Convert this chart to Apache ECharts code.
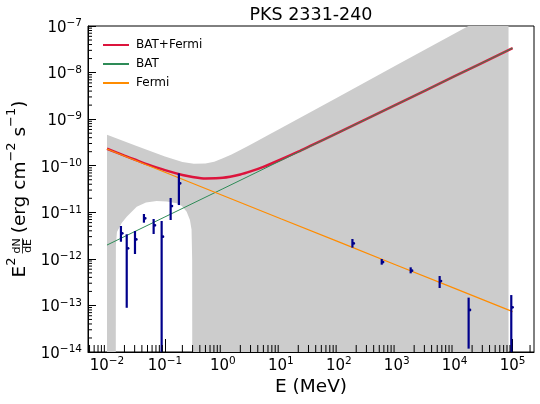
<!DOCTYPE html>
<html>
<head>
<meta charset="utf-8">
<script src="https://cdn.jsdelivr.net/npm/echarts@6/dist/echarts.min.js"></script>
<style>
html, body { margin: 0; padding: 0; background: #fff; }
#chart { width: 540px; height: 404px; }
</style>
</head>
<body>
<div id="chart"></div>
<script>
var FONT = 'DejaVu Sans';

// axis ranges (MeV, erg cm-2 s-1)
var xMin = 0.0047, xMax = 2.34e5;
var yMin = 1e-14, yMax = 1e-7;

// SED points: energy, flux, lower / upper end of error bar
var pointE  = [0.0174, 0.0219, 0.0304, 0.0434, 0.0638, 0.0877, 0.1254, 0.174, 172, 551, 1742, 5508, 17420, 94850];
var pointY  = [3.54e-12, 1.68e-12, 2.62e-12, 7.41e-12, 5.25e-12, 2.99e-12, 1.36e-11, 4.19e-11, 2.15e-12, 8.55e-13, 5.57e-13, 3.34e-13, 7.97e-14, 9.1e-14];
var pointLo = [2.33e-12, 8.9e-14, 1.27e-12, 5.98e-12, 3.42e-12, 1e-16, 6.83e-12, 1.43e-11, 1.74e-12, 7.5e-13, 4.89e-13, 2.37e-13, 1.18e-14, 1e-16];
var pointHi = [5.07e-12, 3.37e-12, 3.96e-12, 9.19e-12, 7.18e-12, 6.5e-12, 2.03e-11, 6.87e-11, 2.67e-12, 9.93e-13, 6.58e-13, 4.28e-13, 1.47e-13, 1.67e-13];

// model curves
var modelE = [0.01, 0.1, 1, 10, 100, 1e3, 1e4, 1e5];
var batY   = [1.98e-12, 7.96e-12, 3.2e-11, 1.29e-10, 5.16e-10, 2.07e-9, 8.34e-9, 3.35e-8];
var fermiY = [2.29e-10, 7.24e-11, 2.3e-11, 7.28e-12, 2.31e-12, 7.31e-13, 2.32e-13, 7.35e-14];
var sumE = [0.01, 0.02, 0.03, 0.05, 0.1, 0.2, 0.3, 0.5, 1, 2, 3, 5, 10, 20, 31.6, 100, 1e3, 1e4, 1e5];
var sumY = [2.31e-10, 1.65e-10, 1.36e-10, 1.07e-10, 8.04e-11, 6.34e-11, 5.74e-11, 5.34e-11, 5.5e-11, 6.49e-11, 7.54e-11, 9.48e-11, 1.36e-10, 2.0e-10, 2.62e-10, 5.18e-10, 2.07e-9, 8.34e-9, 3.35e-8];

// confidence band: upper edge, and lower edge (with the hole under the BAT points)
var bandE  = [0.01, 0.0316, 0.1, 0.2, 0.316, 0.5, 0.708, 1, 1.41, 2, 2.82, 4, 6.3, 10, 100, 1000, 1e4, 85000];
var bandHi = [4.63e-10, 2.68e-10, 1.57e-10, 1.2e-10, 1.1e-10, 1.12e-10, 1.22e-10, 1.44e-10, 1.75e-10, 2.17e-10, 2.73e-10, 3.43e-10, 4.68e-10, 6.4e-10, 3.04e-9, 1.45e-8, 6.9e-8, 2.94e-7];
var lowE = [0.01, 0.01413, 0.01423, 0.01486, 0.0179, 0.0219, 0.0325, 0.047, 0.0719, 0.108, 0.159, 0.196, 0.237, 0.27, 0.288, 0.295, 0.297, 85000];
var lowY = [1e-16, 1e-16, 1.98e-12, 3.77e-12, 5.9e-12, 8.0e-12, 1.32e-11, 1.62e-11, 1.75e-11, 1.71e-11, 1.56e-11, 1.36e-11, 1.03e-11, 6.8e-12, 4.2e-12, 9.4e-13, 1e-16, 1e-16];

var xMinor = [], yMinor = [];
for (var k = -3; k <= 5; k++) {
	for (var m = 2; m <= 9; m++) {
		var v = m * Math.pow(10, k);
		if (v > xMin && v < xMax) xMinor.push([v, yMin]);
	}
}
for (var k = -14; k <= -8; k++) {
	for (var m = 2; m <= 9; m++) yMinor.push([xMin, m * Math.pow(10, k)]);
}

var ctx = document.createElement('canvas').getContext('2d');
function textWidth(t, size){
	ctx.font = size + 'px "' + FONT + '"';
	return ctx.measureText(t).width;
}

function pow10Label(v){
	var e = Math.log10(v);
	if (Math.abs(e - Math.round(e)) > 0.01) return '';
	e = Math.round(e);
	return '{b|10}{s|' + (e < 0 ? '\u2212' : '') + Math.abs(e) + '}';
}
var labelRich = {
	b: { fontSize: 15, fontFamily: FONT, color: '#000', lineHeight: 16, padding: [4, 0, 0, 0] },
	s: { fontSize: 10.5, fontFamily: FONT, color: '#000', lineHeight: 12, verticalAlign: 'top' }
};

function clipRect(params){
	var cs = params.coordSys;
	return { type: 'rect', shape: { x: cs.x, y: cs.y, width: cs.width, height: cs.height } };
}

// y axis title built from pieces (superscripts and the dN/dE fraction)
function yTitle(){
	var F = 18.5, S = 13, Fr = 11;
	var parts = [], x = 0;
	function add(t, size, dy){
		parts.push({ type: 'text', x: x, y: dy, style: { text: t, fontSize: size, fontFamily: FONT, fill: '#000', align: 'left', verticalAlign: 'middle' } });
		x += textWidth(t, size);
	}
	add('E', F, 0);
	add('2', S, -8);
	x += 4;
	var fw = Math.max(textWidth('dN', Fr), textWidth('dE', Fr));
	parts.push({ type: 'text', x: x + fw / 2, y: -3, style: { text: 'dN', fontSize: Fr, fontFamily: FONT, fill: '#000', align: 'center', verticalAlign: 'middle' } });
	parts.push({ type: 'text', x: x + fw / 2, y: 8.5, style: { text: 'dE', fontSize: Fr, fontFamily: FONT, fill: '#000', align: 'center', verticalAlign: 'middle' } });
	parts.push({ type: 'line', shape: { x1: x, y1: 2.5, x2: x + fw, y2: 2.5 }, style: { stroke: '#000', lineWidth: 0.8 } });
	x += fw + 5;
	add('(erg cm', F, 0);
	add('\u22122', S, -8);
	add(' s', F, 0);
	add('\u22121', S, -8);
	add(')', F, 0);
	return { type: 'group', x: 20, y: 189 + x / 2, rotation: Math.PI / 2, children: parts };
}

function pairs(xs, ys){
	return xs.map(function(x, i){ return [x, ys[i]]; });
}

var chart = echarts.init(document.getElementById('chart'));
chart.setOption({
	animation: false,
	backgroundColor: '#fff',
	grid: { left: 88, right: 6, top: 26, bottom: 52, show: true, borderColor: '#000', borderWidth: 1, backgroundColor: 'transparent' },
	graphic: [
		{ type: 'text', x: 311, y: 15, style: { text: 'PKS 2331-240', fontSize: 17.5, fontFamily: FONT, fill: '#000', align: 'center', verticalAlign: 'middle' } },
		{ type: 'text', x: 311, y: 387, style: { text: 'E (MeV)', fontSize: 18.5, fontFamily: FONT, fill: '#000', align: 'center', verticalAlign: 'middle' } },
		yTitle()
	],
	legend: {
		data: ['BAT+Fermi', 'BAT', 'Fermi'],
		orient: 'vertical', left: 97, top: 34,
		itemWidth: 26, itemHeight: 14, itemGap: 7,
		itemStyle: { opacity: 0 },
		textStyle: { fontFamily: FONT, fontSize: 12, color: '#000', padding: [0, 0, 0, 2] }
	},
	xAxis: {
		type: 'log', logBase: 10, min: xMin, max: xMax, splitNumber: 7,
		axisLine: { show: true, lineStyle: { color: '#000', width: 1 } },
		axisTick: { show: true, inside: true, length: 13, lineStyle: { color: '#000', width: 1 } },
		axisLabel: { margin: 4, showMinLabel: false, showMaxLabel: false, formatter: pow10Label, rich: labelRich },
		splitLine: { show: false }
	},
	yAxis: {
		type: 'log', logBase: 10, min: yMin, max: yMax, splitNumber: 7,
		axisLine: { show: true, lineStyle: { color: '#000', width: 1 } },
		axisTick: { show: true, inside: true, length: 8, lineStyle: { color: '#000', width: 1 } },
		axisLabel: { margin: 6, formatter: pow10Label, rich: labelRich },
		splitLine: { show: false }
	},
	series: [
		{
			type: 'custom', name: 'band', silent: true, z: 1,
			data: [[1, 1e-10]],
			renderItem: function(params, api){
				var pts = [];
				for (var i = 0; i < bandE.length; i++) pts.push(api.coord([bandE[i], bandHi[i]]));
				for (var j = lowE.length - 1; j >= 0; j--) pts.push(api.coord([lowE[j], lowY[j]]));
				return { type: 'polygon', shape: { points: pts }, style: { fill: '#cccccc' }, clipPath: clipRect(params) };
			}
		},
		{
			type: 'line', name: 'BAT+Fermi', z: 2, symbol: 'none', smooth: 0.3,
			data: pairs(sumE, sumY),
			lineStyle: { color: '#dc143c', width: 2.5 }, itemStyle: { color: '#dc143c' }
		},
		{
			type: 'line', name: 'BAT', z: 3, symbol: 'none',
			data: pairs(modelE, batY),
			lineStyle: { color: '#2e8b57', width: 1 }, itemStyle: { color: '#2e8b57' }
		},
		{
			type: 'line', name: 'Fermi', z: 4, symbol: 'none',
			data: pairs(modelE, fermiY),
			lineStyle: { color: '#ff8c00', width: 1.2 }, itemStyle: { color: '#ff8c00' }
		},
		{
			type: 'custom', name: 'points', silent: true, z: 5,
			data: pointE.map(function(e, i){ return [e, pointY[i], pointLo[i], pointHi[i]]; }),
			renderItem: function(params, api){
				var x = api.value(0);
				var c = api.coord([x, api.value(1)]);
				var lo = api.coord([x, api.value(2)]);
				var hi = api.coord([x, api.value(3)]);
				return {
					type: 'group', clipPath: clipRect(params),
					children: [
						{ type: 'line', shape: { x1: hi[0], y1: hi[1], x2: lo[0], y2: lo[1] }, style: { stroke: '#00008b', lineWidth: 2.2 } },
						{ type: 'circle', shape: { cx: c[0] + 1.3, cy: c[1], r: 1.4 }, style: { fill: '#00008b' } }
					]
				};
			}
		},
		{
			type: 'custom', name: 'xminor', silent: true, z: 6,
			data: xMinor,
			renderItem: function(params, api){
				var p = api.coord([api.value(0), api.value(1)]);
				return { type: 'line', shape: { x1: p[0], y1: p[1], x2: p[0], y2: p[1] - 7 }, style: { stroke: '#000', lineWidth: 1 } };
			}
		},
		{
			type: 'custom', name: 'yminor', silent: true, z: 6,
			data: yMinor,
			renderItem: function(params, api){
				var p = api.coord([api.value(0), api.value(1)]);
				return { type: 'line', shape: { x1: p[0], y1: p[1], x2: p[0] + 4, y2: p[1] }, style: { stroke: '#000', lineWidth: 1 } };
			}
		}
	]
});
</script>
</body>
</html>
